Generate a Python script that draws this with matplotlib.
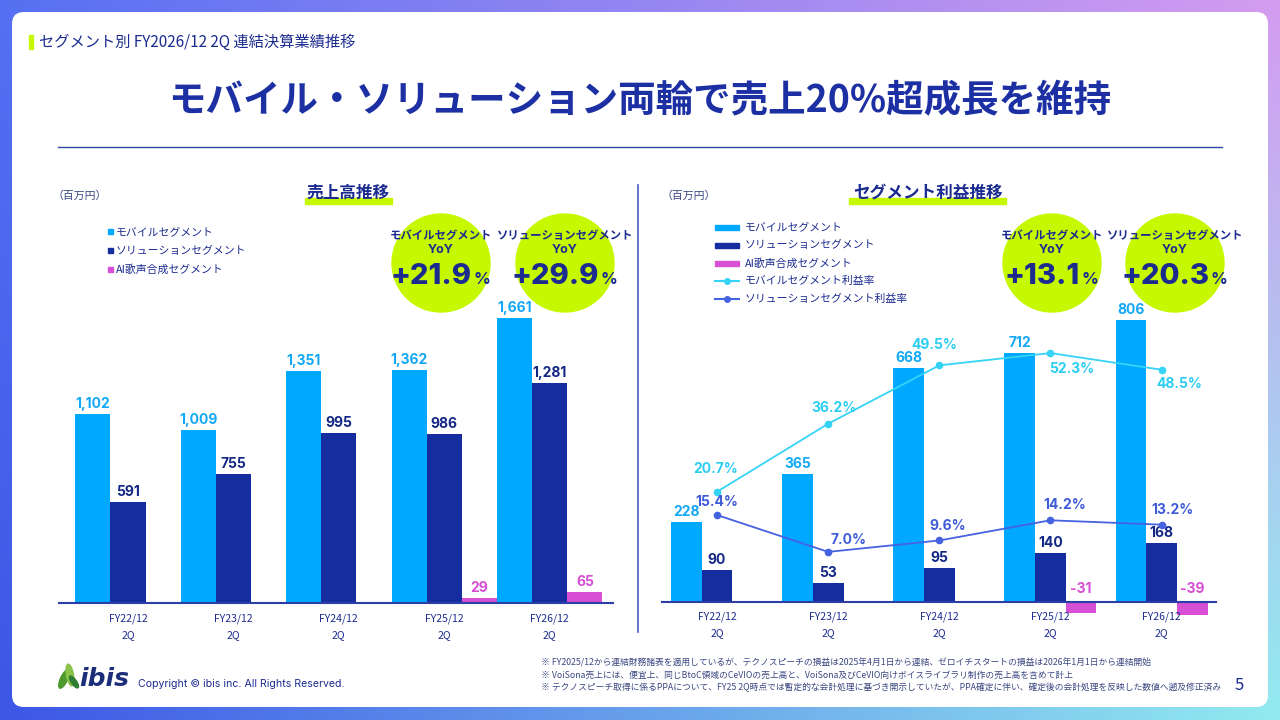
import numpy as np
import matplotlib
matplotlib.use('Agg')
import matplotlib.pyplot as plt
from matplotlib.colors import to_rgb
from matplotlib.patches import FancyBboxPatch, Ellipse, Rectangle

plt.rcParams['font.family'] = ['Noto Sans CJK JP', 'DejaVu Sans']
NUM_FONT = ['Inter', 'Noto Sans CJK JP', 'DejaVu Sans']

# ---- data ----
periods = ['FY22/12\n2Q', 'FY23/12\n2Q', 'FY24/12\n2Q', 'FY25/12\n2Q', 'FY26/12\n2Q']
sales_mobile = [1102, 1009, 1351, 1362, 1661]
sales_solution = [591, 755, 995, 986, 1281]
sales_ai = [None, None, None, 29, 65]
profit_mobile = [228, 365, 668, 712, 806]
profit_solution = [90, 53, 95, 140, 168]
profit_ai = [None, None, None, -31, -39]
margin_mobile = [20.7, 36.2, 49.5, 52.3, 48.5]
margin_solution = [15.4, 7.0, 9.6, 14.2, 13.2]
yoy_sales = [('モバイルセグメント', '+21.9'), ('ソリューションセグメント', '+29.9')]
yoy_profit = [('モバイルセグメント', '+13.1'), ('ソリューションセグメント', '+20.3')]

header = 'セグメント別 FY2026/12 2Q 連結決算業績推移'
title = 'モバイル・ソリューション両輪で売上20%超成長を維持'
notes = [
    '※ FY2025/12から連結財務諸表を適用しているが、テクノスピーチの損益は2025年4月1日から連結、ゼロイチスタートの損益は2026年1月1日から連結開始',
    '※ VoiSona売上には、便宜上、同じBtoC領域のCeVIOの売上高と、VoiSona及びCeVIO向けボイスライブラリ制作の売上高を含めて計上',
    '※ テクノスピーチ取得に係るPPAについて、FY25 2Q時点では暫定的な会計処理に基づき開示していたが、PPA確定に伴い、確定後の会計処理を反映した数値へ遡及修正済み',
]

# ---- style ----
NAVY = '#1B2B8F'
TITLE = '#1C2FA3'
C_MOB = '#00A9FF'
C_SOL = '#152D9F'
C_AI = '#D64FD5'
C_MOB_LINE = '#35D3F5'
C_SOL_LINE = '#4562E0'
T_MOB = '#12A8F6'
T_SOL = '#132785'
LIME = '#C6F800'
W, H = 1280, 720


def rect(l, t, r, b):
    return [l / W, 1 - b / H, (r - l) / W, (b - t) / H]


fig = plt.figure(figsize=(12.8, 7.2), dpi=100)
bg = fig.add_axes([0, 0, 1, 1])

# gradient frame + white panel
ys, xs = np.mgrid[0:1:72j, 0:1:128j]
tl, tr = np.array(to_rgb('#5670F3')), np.array(to_rgb('#D49CF0'))
bl, br = np.array(to_rgb('#3D57E6')), np.array(to_rgb('#92EAF0'))
img = (tl * ((1 - xs) * (1 - ys))[..., None] + tr * (xs * (1 - ys))[..., None]
       + bl * ((1 - xs) * ys)[..., None] + br * (xs * ys)[..., None])
bg.imshow(img, extent=(0, W, H, 0), aspect='auto', interpolation='bilinear', zorder=0)
bg.add_patch(FancyBboxPatch((12, 12), 1256, 695, boxstyle='round,pad=0,rounding_size=12',
                            fc='white', ec='none', zorder=1))
bg.set_xlim(0, W)
bg.set_ylim(H, 0)
bg.axis('off')

# header and title
bg.add_patch(Rectangle((29, 35), 4, 14, color=LIME, zorder=2))
bg.text(39, 42, header, fontsize=11, color=NAVY, va='center', zorder=3)
bg.text(640, 101, title, fontsize=27, weight='bold', color=TITLE, ha='center', va='center', zorder=3)
bg.plot([58, 1222], [147, 147], color='#2E46A8', lw=1, zorder=2)
bg.plot([638, 638], [185, 632], color='#4A5CC0', lw=1.2, zorder=2)

# subtitles
for x0, x1, cx, txt, ux in [(305, 392, 348, '売上高推移', 80), (849, 1006, 928, 'セグメント利益推移', 689)]:
    bg.add_patch(Rectangle((x0, 198), x1 - x0, 6, color=LIME, zorder=2))
    bg.text(cx, 193, txt, fontsize=12, weight='bold', color=NAVY, ha='center', va='center', zorder=3)
    bg.text(ux, 196, '（百万円）', fontsize=7.8, color='#3A4680', ha='center', va='center', zorder=3)

# left legend
for y, c, txt in [(232, C_MOB, 'モバイルセグメント'), (251, C_SOL, 'ソリューションセグメント'),
                  (270, C_AI, 'AI歌声合成セグメント')]:
    bg.add_patch(Rectangle((108, y - 3), 5, 5, color=c, zorder=3))
    bg.text(116, y, txt, fontsize=7.8, color=NAVY, va='center', zorder=3)

# right legend
for y, c, txt in [(227, C_MOB, 'モバイルセグメント'), (245, C_SOL, 'ソリューションセグメント'),
                  (263, C_AI, 'AI歌声合成セグメント')]:
    bg.add_patch(Rectangle((715, y - 2.5), 24, 5, color=c, zorder=3))
    bg.text(745, y, txt, fontsize=7.8, color=NAVY, va='center', zorder=3)
for y, c, txt in [(281, C_MOB_LINE, 'モバイルセグメント利益率'), (299, C_SOL_LINE, 'ソリューションセグメント利益率')]:
    bg.plot([715, 739], [y, y], color=c, lw=1.5, zorder=3)
    bg.plot([727], [y], 'o', color=c, ms=4, zorder=3)
    bg.text(745, y, txt, fontsize=7.8, color=NAVY, va='center', zorder=3)

# YoY bubbles
for cxs, items in [((441, 565), yoy_sales), ((1052, 1175), yoy_profit)]:
    for cx, (name, val) in zip(cxs, items):
        bg.add_patch(Ellipse((cx, 263), 98, 98, color=LIME, zorder=2))
        bg.text(cx, 235, name, fontsize=8.2, weight='bold', color=NAVY, ha='center', va='center', zorder=3)
        bg.text(cx, 250, 'YoY', fontsize=9, weight='bold', family=NUM_FONT, color=NAVY,
                ha='center', va='center', zorder=3)
        t = bg.text(cx - 10, 277, val, fontsize=21, weight='heavy', family=NUM_FONT, color=NAVY,
                    ha='center', va='center', zorder=3)
        bg.annotate('%', xy=(1.02, 0.12), xycoords=t, fontsize=12, weight='bold', family=NUM_FONT,
                    color=NAVY, ha='left', va='bottom', zorder=3)

# footer
for i, n in enumerate(notes):
    bg.text(541, 663 + 12 * i, n, fontsize=6.3, color='#3A4680', va='center', zorder=3)
bg.text(1239, 685, '5', fontsize=12, color=NAVY, ha='center', va='center', zorder=3)
bg.text(138, 684, 'Copyright © ibis inc. All Rights Reserved.', fontsize=7.6, family=NUM_FONT,
        color=NAVY, va='center', zorder=3)
bg.add_patch(Ellipse((64, 679), 7, 20, angle=25, color='#4E9A2E', zorder=3))
bg.add_patch(Ellipse((70, 675), 7, 22, angle=-10, color='#8BC34A', zorder=3))
bg.add_patch(Ellipse((74, 682), 5, 14, angle=-35, color='#2F7D32', zorder=3))
bg.text(79, 679, 'ibis', fontsize=18, family='DejaVu Sans', style='italic', weight='bold',
        color='#1C2D7A', va='center', zorder=3)

x = np.arange(len(periods))


def style_axis(ax):
    for s in ['top', 'left', 'right']:
        ax.spines[s].set_visible(False)
    ax.spines['bottom'].set_color('#2B3FA6')
    ax.spines['bottom'].set_linewidth(1.5)
    ax.set_yticks([])
    ax.set_xticks(x, periods)
    ax.tick_params(axis='x', length=0, pad=7, labelsize=7.5, labelcolor=NAVY)
    for t in ax.get_xticklabels():
        t.set_linespacing(1.8)
    ax.patch.set_alpha(0)


def bar_labels(ax, xs_, vals, color, off=3):
    for xi, v in zip(xs_, vals):
        y0 = max(v, 0)
        ax.annotate(f'{v:,}', (xi, y0), xytext=(0, off if v >= 0 else 6), textcoords='offset pixels',
                    ha='center', va='bottom', fontsize=10, weight='bold', family=NUM_FONT, color=color)


# ---- left chart: sales ----
axL = fig.add_axes(rect(59, 300, 613, 603.3))
w = 1 / 3
ai_i = [i for i, v in enumerate(sales_ai) if v is not None]
ai_v = [sales_ai[i] for i in ai_i]
axL.bar(x - w, sales_mobile, w, color=C_MOB)
axL.bar(x, sales_solution, w, color=C_SOL)
axL.bar(np.array(ai_i) + w, ai_v, w, color=C_AI)
bar_labels(axL, x - w, sales_mobile, T_MOB)
bar_labels(axL, x, sales_solution, T_SOL)
bar_labels(axL, np.array(ai_i) + w, ai_v, C_AI)
axL.set_xlim(-0.654, 4.6)
axL.set_ylim(0, 1767)
style_axis(axL)

# ---- right chart: segment profit ----
axR = fig.add_axes(rect(661.5, 300, 1216, 601.7))
w = 0.276
ai_i = [i for i, v in enumerate(profit_ai) if v is not None]
ai_v = [profit_ai[i] for i in ai_i]
axR.bar(x - w, profit_mobile, w, color=C_MOB)
axR.bar(x, profit_solution, w, color=C_SOL)
axR.bar(np.array(ai_i) + w, ai_v, w, color=C_AI, clip_on=False)
bar_labels(axR, x - w, profit_mobile, T_MOB)
bar_labels(axR, x, profit_solution, T_SOL)
bar_labels(axR, np.array(ai_i) + w, ai_v, C_AI)
axR.set_xlim(-0.5, 4.49)
axR.set_ylim(0, 863.2)
style_axis(axR)

axM = axR.twinx()
axM.set_ylim(-4.35, 64.39)
axM.axis('off')
axM.plot(x, margin_mobile, color=C_MOB_LINE, lw=1.3, marker='o', ms=4.5)
axM.plot(x, margin_solution, color=C_SOL_LINE, lw=1.3, marker='o', ms=4.5)
mob_off = [(-1, 23), (6, 16), (-5, 20), (21, -16), (18, -14)]
sol_off = [(0, 13), (20, 12), (8, 14), (14, 15), (11, 15)]
for vals, offs, col in [(margin_mobile, mob_off, '#2BCDF2'), (margin_solution, sol_off, '#3F5BD8')]:
    for xi, v, (dx, dy) in zip(x, vals, offs):
        axM.annotate(f'{v:.1f}%', (xi, v), xytext=(dx, dy), textcoords='offset pixels',
                     ha='center', va='center', fontsize=10, weight='bold', family=NUM_FONT, color=col)

fig.savefig('out.png', dpi=100)
